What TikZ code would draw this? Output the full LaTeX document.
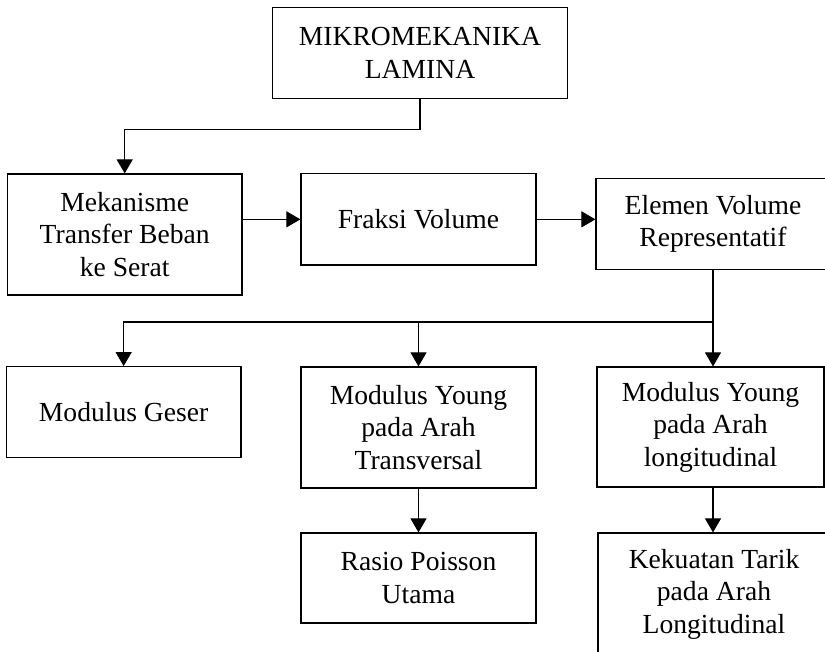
\documentclass[tikz,border=0pt]{standalone}
\usepackage{fontspec}
\setmainfont{Liberation Serif}
\usetikzlibrary{arrows.meta}
\begin{document}
\begin{tikzpicture}[x=1pt,y=-1pt,
  box/.style={draw, line width=1.2pt, align=center, inner sep=0pt,
    font=\fontsize{27.6}{32.5}\selectfont},
  arr/.style={line width=1.1pt, -{Triangle[width=16pt,length=14pt]}},
  ln/.style={line width=1.1pt}]
\useasboundingbox (0,0) rectangle (825,652);
\clip (0,0) rectangle (825,652);
\node[box, minimum width=294.8pt, minimum height=91.4pt] (top) at (420,53) {MIKROMEKANIKA\\LAMINA};
\node[box, minimum width=234.6pt, minimum height=121pt] (mek) at (124.7,234.5) {Mekanisme\\Transfer Beban\\ke Serat};
\node[box, minimum width=235pt, minimum height=91.3pt] (frak) at (418.5,219.35) {Fraksi Volume};
\node[box, minimum width=234pt, minimum height=90.6pt] (elem) at (713,224) {Elemen Volume\\Representatif};
\node[box, minimum width=234.7pt, minimum height=90.6pt] (geser) at (123.65,412) {Modulus Geser};
\node[box, minimum width=235pt, minimum height=121pt] (yt) at (418.5,427.5) {Modulus Young\\pada Arah\\Transversal};
\node[box, minimum width=227pt, minimum height=120pt] (yl) at (710.5,427) {Modulus Young\\pada Arah\\longitudinal};
\node[box, minimum width=235pt, minimum height=90pt] (rasio) at (418.5,578) {Rasio Poisson\\Utama};
\node[box, minimum width=232pt, minimum height=122pt] (kek) at (714,594) {Kekuatan Tarik\\pada Arah\\Longitudinal};
\coordinate (bus) at (713,322);
% connectors
\draw[arr] (top.south) -- ++(0,30) -| (mek.north);
\draw[arr] (mek.east |- frak.west) -- (frak.west);
\draw[arr] (frak.east) -- (frak.east -| elem.west);
\draw[ln] (elem.south) -- (bus);
\draw[arr] (bus) -- (yl.north -| bus);
\draw[arr] (bus) -| (geser.north);
\draw[arr] (bus -| yt.north) -- (yt.north);
\draw[arr] (yt.south) -- (rasio.north);
\draw[arr] (yl.south -| bus) -- (kek.north -| bus);
\end{tikzpicture}
\end{document}
